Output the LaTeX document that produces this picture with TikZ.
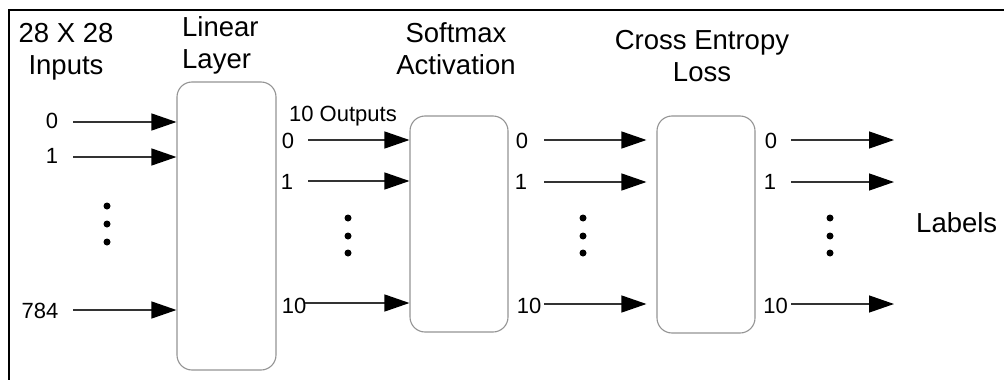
\documentclass[tikz,border=0pt]{standalone}
\usepackage{fontspec}
\setmainfont{Liberation Sans}
\usetikzlibrary{arrows.meta}

\begin{document}
\begin{tikzpicture}[x=1pt,y=-1pt,
  stage/.style={draw=black!42, line width=1.1pt, rounded corners=15pt, fill=white, inner sep=0pt},
  flow/.style={draw=black!80, line width=1.3pt, -{Triangle[length=25pt,width=17pt,color=black]}},
  idx/.style={font=\fontsize{22}{26}\selectfont, inner sep=0pt},
  title/.style={font=\fontsize{27.5}{32}\selectfont, align=center, inner sep=0pt},
  vdot/.style={circle, fill=black, inner sep=0pt, minimum size=7pt}]

\useasboundingbox (0,0) rectangle (1004,380);

% frame
\draw[line width=2pt] (9,380) -- (9,10) -- (1004,10);

% titles (anchored on the baseline of their last line)
\node[title, anchor=base] (tin) at (66,74) {28 X 28\\Inputs};
\node[title, align=left, anchor=base west] (tlin) at (182,68) {Linear\\Layer};
\node[title, anchor=base] (tsm) at (456,74) {Softmax\\Activation};
\node[title, anchor=base] (tce) at (702,81) {Cross Entropy\\Loss};
\node[title, anchor=base west] (tlab) at (916,232) {Labels};

% stage boxes
\node[stage, minimum width=99pt, minimum height=288pt] (lin) at (226.5,226) {};
\node[stage, minimum width=98pt, minimum height=216pt] (sm) at (459,224) {};
\node[stage, minimum width=98pt, minimum height=217pt] (ce) at (706,224.5) {};

% inputs
\node[idx] (l0) at (52,121) {0};
\node[idx] (l1) at (52,156) {1};
\node[idx] (l784) at (40,311) {784};
\coordinate (in0) at (73,122);
\coordinate (in1) at (73,157);
\coordinate (in784) at (73,310);
\draw[flow] (in0) -- (in0 -| lin.west);
\draw[flow] (in1) -- (in1 -| lin.west);
\draw[flow] (in784) -- (in784 -| lin.west);
\node[vdot] (d1a) at (107,206) {};
\node[vdot] (d1b) at (107,224) {};
\node[vdot] (d1c) at (107,242) {};

% linear outputs
\node[idx, anchor=base] (tout) at (343,121) {10 Outputs};
\node[idx] (a0) at (288,141) {0};
\node[idx] (a1) at (287,182) {1};
\node[idx] (a10) at (294,305.5) {10};
\coordinate (p0) at (308,140);
\coordinate (p1) at (308,181);
\coordinate (p10) at (305,303);
\draw[flow] (p0) -- (p0 -| sm.west);
\draw[flow] (p1) -- (p1 -| sm.west);
\draw[flow] (p10) -- (p10 -| sm.west);
\node[vdot] (d2a) at (348,218) {};
\node[vdot] (d2b) at (348,236) {};
\node[vdot] (d2c) at (348,253) {};

% softmax outputs
\node[idx] (b0) at (522,141) {0};
\node[idx] (b1) at (521,182) {1};
\node[idx] (b10) at (529,305.5) {10};
\coordinate (q0) at (544,140);
\coordinate (q1) at (544,182);
\coordinate (q10) at (544,304);
\draw[flow, shorten >=10pt] (q0) -- (q0 -| ce.west);
\draw[flow, shorten >=10pt] (q1) -- (q1 -| ce.west);
\draw[flow, shorten >=10pt] (q10) -- (q10 -| ce.west);
\node[vdot] (d3a) at (583,218) {};
\node[vdot] (d3b) at (583,236) {};
\node[vdot] (d3c) at (583,253) {};

% loss outputs
\node[idx] (c0) at (771,141) {0};
\node[idx] (c1) at (770,182) {1};
\node[idx] (c10) at (775.5,305.5) {10};
\coordinate (r0) at (791,140);
\coordinate (r1) at (791,182);
\coordinate (r10) at (791,304);
\coordinate (e0) at (894,140);
\coordinate (e1) at (894,182);
\coordinate (e10) at (894,304);
\draw[flow] (r0) -- (e0);
\draw[flow] (r1) -- (e1);
\draw[flow] (r10) -- (e10);
\node[vdot] (d4a) at (830,218) {};
\node[vdot] (d4b) at (830,236) {};
\node[vdot] (d4c) at (830,253) {};
\end{tikzpicture}
\end{document}
